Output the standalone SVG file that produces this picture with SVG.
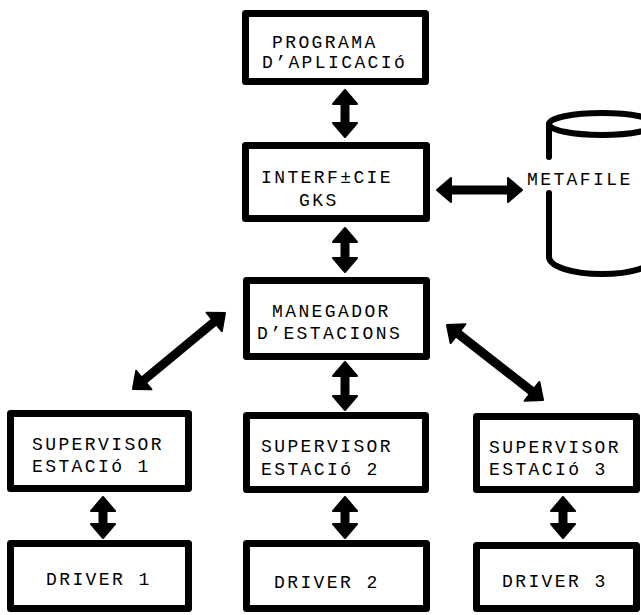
<svg xmlns="http://www.w3.org/2000/svg" width="641" height="615" viewBox="0 0 641 615">
  <defs>
    <style>
      .box { fill: #fff; stroke: #000; stroke-width: 7; stroke-linejoin: round; }
      .lbl { font-family: "Liberation Mono", "DejaVu Sans Mono", monospace; font-size: 18px; letter-spacing: 2.4px; fill: #000; }
      .conn { stroke: #000; stroke-width: 9; fill: none; marker-start: url(#ah); marker-end: url(#ah); }
      .cyl { stroke: #000; stroke-width: 6; fill: none; stroke-linecap: round; }
    </style>
    <marker id="ah" markerUnits="userSpaceOnUse" viewBox="-1 -15 17 30" markerWidth="17" markerHeight="30" refX="0" refY="0" orient="auto-start-reverse" overflow="visible">
      <path d="M0,-12 L14,0 L0,12 Z" fill="#000" stroke="#000" stroke-width="2" stroke-linejoin="round"/>
    </marker>
  </defs>
  <rect width="641" height="615" fill="#fff"/>

  <g id="programa">
    <rect class="box" x="245.5" y="13.5" width="180" height="68"/>
    <text class="lbl" x="272" y="48">PROGRAMA</text>
    <text class="lbl" x="262" y="68">D’APLICACIó</text>
  </g>

  <g id="interficie">
    <rect class="box" x="245.5" y="145.5" width="181" height="73"/>
    <text class="lbl" x="261" y="183">INTERF±CIE</text>
    <text class="lbl" x="299" y="206">GKS</text>
  </g>

  <g id="metafile">
    <ellipse class="cyl" cx="602" cy="124" rx="53" ry="11"/>
    <path class="cyl" d="M549,124 L549,157 M549,193 L549,257 A53,17 0 0 0 655,257 L655,124"/>
    <text class="lbl" x="527" y="185">METAFILE</text>
  </g>

  <g id="manegador">
    <rect class="box" x="246.5" y="280.5" width="180" height="76"/>
    <text class="lbl" x="272" y="317">MANEGADOR</text>
    <text class="lbl" x="257" y="339">D’ESTACIONS</text>
  </g>

  <g id="supervisor1">
    <rect class="box" x="10.5" y="413.5" width="178" height="75"/>
    <text class="lbl" x="32" y="450">SUPERVISOR</text>
    <text class="lbl" x="32" y="472">ESTACIó 1</text>
  </g>

  <g id="supervisor2">
    <rect class="box" x="246.5" y="415.5" width="179" height="74"/>
    <text class="lbl" x="261" y="452">SUPERVISOR</text>
    <text class="lbl" x="261" y="475">ESTACIó 2</text>
  </g>

  <g id="supervisor3">
    <rect class="box" x="476.5" y="416.5" width="160" height="73"/>
    <text class="lbl" x="489" y="453">SUPERVISOR</text>
    <text class="lbl" x="489" y="475">ESTACIó 3</text>
  </g>

  <g id="driver1">
    <rect class="box" x="10.5" y="543.5" width="178" height="65"/>
    <text class="lbl" x="46" y="585">DRIVER 1</text>
  </g>

  <g id="driver2">
    <rect class="box" x="246.5" y="543.5" width="180" height="65"/>
    <text class="lbl" x="274" y="588">DRIVER 2</text>
  </g>

  <g id="driver3">
    <rect class="box" x="476.5" y="545.5" width="160" height="63"/>
    <text class="lbl" x="502" y="587">DRIVER 3</text>
  </g>

  <g id="connectors">
    <line class="conn" x1="345" y1="104" x2="345" y2="123"/>
    <line class="conn" x1="345" y1="242" x2="345" y2="258"/>
    <line class="conn" x1="451" y1="190" x2="508" y2="190"/>
    <line class="conn" x1="345" y1="376" x2="345" y2="396"/>
    <line class="conn" x1="214.2" y1="321.9" x2="143.8" y2="380.1"/>
    <line class="conn" x1="458" y1="333.6" x2="532" y2="391.4"/>
    <line class="conn" x1="103" y1="511" x2="103" y2="524"/>
    <line class="conn" x1="345" y1="511" x2="345" y2="524"/>
    <line class="conn" x1="563" y1="511" x2="563" y2="524"/>
  </g>
</svg>
